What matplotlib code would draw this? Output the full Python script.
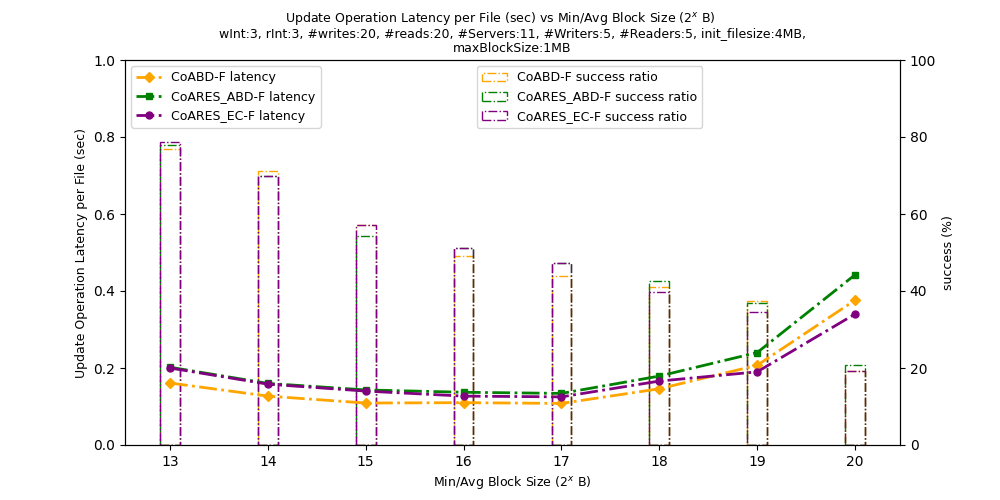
import numpy as np
import matplotlib; matplotlib.use('Agg')
import matplotlib.pyplot as plt

block_exp = [13, 14, 15, 16, 17, 18, 19, 20]

lat_abd    = [0.161, 0.127, 0.109, 0.110, 0.108, 0.146, 0.207, 0.376]
lat_ares   = [0.202, 0.160, 0.143, 0.137, 0.134, 0.179, 0.240, 0.442]
lat_ec     = [0.200, 0.158, 0.140, 0.127, 0.125, 0.166, 0.190, 0.340]

succ_abd   = [76.8, 71.1, 57.1, 49.1, 43.8, 41.0, 37.3, 19.3]
succ_ares  = [77.8, 70.0, 54.2, 51.2, 47.4, 42.6, 36.8, 20.7]
succ_ec    = [78.6, 69.9, 57.1, 51.2, 47.4, 39.7, 34.5, 19.3]

fig, ax1 = plt.subplots(figsize=(10, 5))
ax2 = ax1.twinx()

w = 0.2
ax2.bar(block_exp, succ_abd,  width=w, fill=False, edgecolor='orange', ls='-.', label='CoABD-F success ratio')
ax2.bar(block_exp, succ_ares, width=w, fill=False, edgecolor='green',  ls='-.', label='CoARES_ABD-F success ratio')
ax2.bar(block_exp, succ_ec,   width=w, fill=False, edgecolor='purple', ls='-.', label='CoARES_EC-F success ratio')
ax2.set_ylim(0, 100)
ax2.set_ylabel('success (%)', fontsize=9)
ax2.legend(loc='upper left', bbox_to_anchor=(0.446, 1), fontsize=9)

ax1.plot(block_exp, lat_abd,  '-.D', color='orange', lw=2, ms=5, label='CoABD-F latency')
ax1.plot(block_exp, lat_ares, '-.s', color='green',  lw=2, ms=5, label='CoARES_ABD-F latency')
ax1.plot(block_exp, lat_ec,   '-.o', color='purple', lw=2, ms=5, label='CoARES_EC-F latency')
ax1.set_ylim(0, 1)
ax1.set_xticks(block_exp)
ax1.set_xlabel('Min/Avg Block Size ($2^x$ B)', fontsize=9)
ax1.set_ylabel('Update Operation Latency per File (sec)', fontsize=9)
ax1.legend(loc='upper left', fontsize=9)
ax1.set_zorder(ax2.get_zorder() + 1)
ax1.patch.set_visible(False)

fig.suptitle('Update Operation Latency per File (sec) vs Min/Avg Block Size ($2^x$ B)', fontsize=9)
ax1.set_title('wInt:3, rInt:3, #writes:20, #reads:20, #Servers:11, #Writers:5, #Readers:5, init_filesize:4MB,\n'
              'maxBlockSize:1MB', fontsize=9)

plt.savefig('out.png', dpi=100)
